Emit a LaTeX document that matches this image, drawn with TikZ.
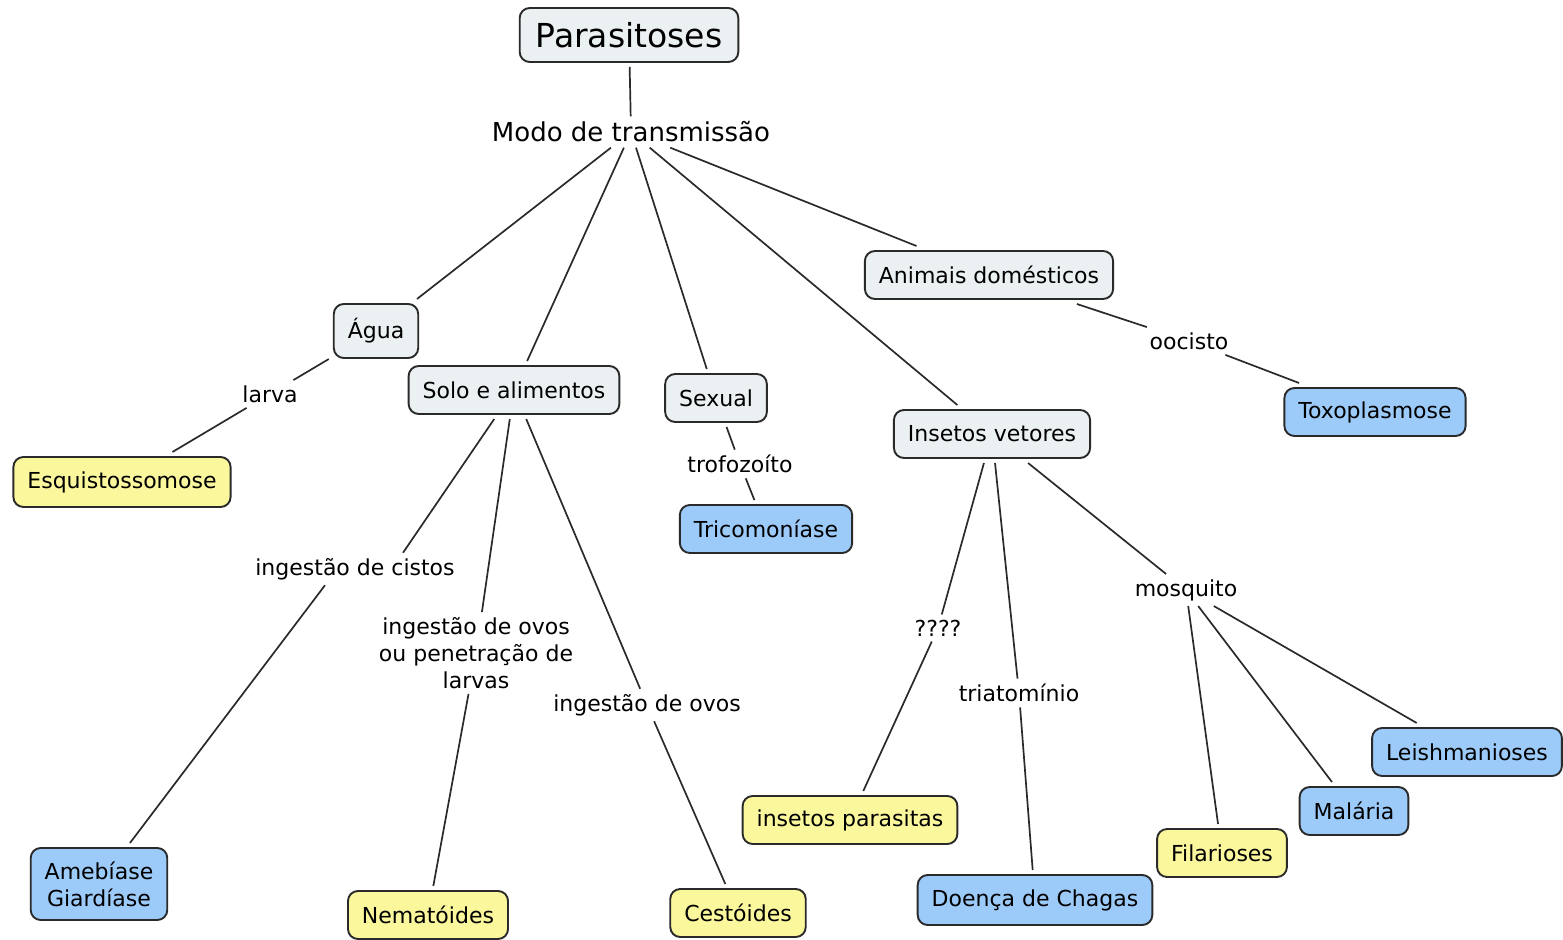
\documentclass[tikz,border=0pt]{standalone}
\usepackage{fontspec}
\setmainfont{DejaVu Sans}
\usepackage{tikz}
\definecolor{conceptgrey}{HTML}{EBF1F3}
\definecolor{conceptyellow}{HTML}{FBF79C}
\definecolor{conceptblue}{HTML}{9CCBFA}
\definecolor{edgegrey}{HTML}{2A2A2A}
\tikzset{
  concept/.style={draw=edgegrey, line width=0.95pt, rounded corners=5pt, fill=conceptgrey,
    inner xsep=7pt, minimum height=24pt, outer sep=2.5pt, font=\fontsize{11}{13.5}\selectfont, align=center},
  yellowbox/.style={concept, fill=conceptyellow},
  bluebox/.style={concept, fill=conceptblue},
  linkword/.style={inner sep=2.5pt, font=\fontsize{11}{13.4}\selectfont, align=center},
  link/.style={draw=edgegrey, line width=0.85pt}
}
\begin{document}
\begin{tikzpicture}[x=0.5pt,y=-0.5pt]
\useasboundingbox (0,0) rectangle (1563,940);

%root
\node[concept, font=\fontsize{16.5}{19}\selectfont, inner xsep=8pt, minimum height=27pt] (paras) at (629,35) {Parasitoses};
\node[linkword, font=\fontsize{13}{15}\selectfont] (modo) at (631,132) {Modo de transmissão};
\draw[link] (paras) -- (modo);

%first level
\node[concept, minimum height=27pt] (agua) at (376,331) {Água};
\node[concept] (solo) at (514,390) {Solo e alimentos};
\node[concept] (sexual) at (716,398) {Sexual};
\node[concept] (insetos) at (992,434) {Insetos vetores};
\node[concept] (animais) at (989,275) {Animais domésticos};
\foreach \n in {agua,solo,sexual,insetos,animais}
  \draw[link] (modo) -- (\n);

%agua
\node[linkword] (larva) at (270,394) {larva};
\node[yellowbox, minimum height=25pt] (esquisto) at (122,482) {Esquistossomose};
\draw[link] (agua) -- (larva);
\draw[link] (larva) -- (esquisto);

%animais domesticos
\node[linkword] (oocisto) at (1189,341) {oocisto};
\node[bluebox] (toxo) at (1375,412) {Toxoplasmose};
\draw[link] (animais) -- (oocisto);
\draw[link] (oocisto) -- (toxo);

%sexual
\node[linkword] (trofo) at (740,464) {trofozoíto};
\node[bluebox] (trico) at (766,529) {Tricomoníase};
\draw[link] (sexual) -- (trofo);
\draw[link] (trofo) -- (trico);

%solo e alimentos
\node[linkword] (cistos) at (355,569) {ingestão de cistos};
\node[linkword] (ovoslarvas) at (476,653) {ingestão de ovos\\ou penetração de\\larvas};
\node[linkword] (ovos) at (647,705) {ingestão de ovos};
\node[bluebox, minimum height=36pt] (ameba) at (99,884) {Amebíase\\Giardíase};
\node[yellowbox] (nemat) at (428,915) {Nematóides};
\node[yellowbox] (cestoi) at (738,913) {Cestóides};
\draw[link] (solo) -- ([xshift=24pt]cistos.north);
\draw[link] ([xshift=-15pt]cistos.south) -- (ameba);
\draw[link] (solo) -- (ovoslarvas);
\draw[link] (ovoslarvas) -- (nemat);
\draw[link] (solo) -- (ovos);
\draw[link] (ovos) -- (cestoi);

%insetos vetores
\node[linkword] (quest) at (938,628) {????};
\node[linkword] (triato) at (1019,693) {triatomínio};
\node[linkword] (mosq) at (1186,590) {mosquito};
\node[yellowbox] (parasitas) at (850,820) {insetos parasitas};
\node[bluebox, minimum height=25pt] (chagas) at (1035,900) {Doença de Chagas};
\draw[link] (insetos) -- (quest);
\draw[link] (quest) -- (parasitas);
\draw[link] (insetos) -- (triato);
\draw[link] (triato) -- (chagas);
\draw[link] (insetos) -- (mosq);

%mosquito
\node[yellowbox] (filar) at (1222,853) {Filarioses};
\node[bluebox] (malaria) at (1354,811) {Malária};
\node[bluebox] (leish) at (1467,752) {Leishmanioses};
\foreach \n in {filar,malaria,leish}
  \draw[link] (mosq) -- (\n);
\end{tikzpicture}
\end{document}
